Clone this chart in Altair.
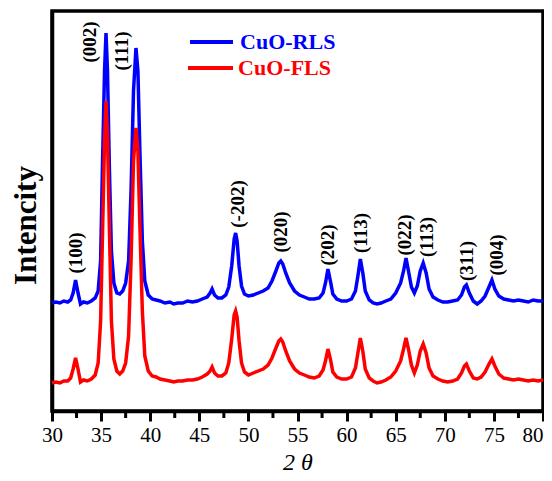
import altair as alt
import pandas as pd

# ---- data (2θ in degrees, intensity in arbitrary units) ----
two_theta = [30.0, 30.4, 30.8, 31.2, 31.6, 31.9, 32.15, 32.4, 32.65, 32.9, 33.2, 33.6, 34.0, 34.4, 34.7,
             34.95, 35.15, 35.35, 35.5, 35.65, 35.85, 36.05, 36.3, 36.6, 36.9, 37.2, 37.5, 37.8, 38.05,
             38.3, 38.55, 38.75, 38.95, 39.2, 39.45, 39.8, 40.2, 40.6, 41.0, 41.5, 42.0, 42.4, 42.8, 43.3,
             43.8, 44.3, 44.8, 45.3, 45.8, 46.1, 46.3, 46.55, 46.9, 47.3, 47.7, 48.0, 48.3, 48.55, 48.7,
             48.85, 49.05, 49.3, 49.6, 50.0, 50.5, 51.0, 51.5, 52.0, 52.4, 52.8, 53.1, 53.3, 53.5, 53.8,
             54.2, 54.7, 55.2, 55.7, 56.2, 56.7, 57.2, 57.6, 57.85, 58.1, 58.35, 58.6, 59.0, 59.5, 60.0,
             60.5, 60.9, 61.15, 61.4, 61.65, 61.9, 62.3, 62.7, 63.1, 63.5, 64.0, 64.5, 65.0, 65.5, 65.8,
             66.05, 66.3, 66.6, 66.9, 67.2, 67.5, 67.8, 68.1, 68.4, 68.8, 69.3, 69.8, 70.3, 70.8, 71.3,
             71.7, 72.0, 72.2, 72.5, 72.9, 73.3, 73.7, 74.1, 74.5, 74.8, 75.1, 75.5, 76.0, 76.5, 77.0,
             77.5, 78.0, 78.5, 79.0, 79.5, 80.0]

cuo_rls = [108, 109, 108, 110, 109, 111, 118, 131, 118, 107, 109, 108, 110, 113, 120,
           150, 250, 340, 378, 340, 240, 160, 128, 118, 117, 120, 128, 150, 220,
           320, 363, 340, 260, 170, 130, 116, 112, 111, 110, 108, 109, 107, 108, 108,
           110, 109, 110, 112, 114, 118, 122, 116, 113, 113, 116, 124, 145, 172, 178,
           170, 145, 125, 117, 115, 116, 118, 120, 123, 130, 140, 148, 150, 147, 138,
           128, 120, 116, 114, 112, 112, 113, 118, 128, 142, 130, 117, 112, 110, 110,
           112, 120, 135, 152, 138, 120, 111, 108, 107, 108, 110, 112, 118, 128, 140,
           153, 140, 124, 118, 125, 140, 148, 138, 122, 114, 111, 109, 109, 110, 111,
           116, 124, 126, 118, 110, 107, 110, 115, 124, 131, 122, 115, 112, 111, 110,
           111, 110, 109, 111, 110, 110]

cuo_fls = [28, 29, 28, 30, 30, 33, 42, 53, 42, 29, 31, 30, 32, 36, 48,
           90, 180, 270, 310, 275, 180, 90, 52, 40, 37, 40, 48, 75, 150,
           250, 283, 260, 185, 100, 55, 40, 35, 34, 32, 31, 30, 29, 30, 30,
           31, 31, 32, 34, 37, 40, 44, 38, 35, 35, 38, 48, 72, 96, 100,
           94, 70, 48, 39, 36, 38, 40, 42, 46, 53, 63, 70, 72, 69, 60,
           50, 42, 38, 36, 34, 33, 35, 41, 50, 62, 52, 39, 34, 32, 32,
           34, 43, 58, 73, 60, 42, 33, 30, 28, 29, 31, 34, 40, 50, 62,
           73, 62, 46, 38, 46, 60, 67, 58, 43, 35, 32, 30, 29, 30, 32,
           38, 45, 47, 40, 33, 32, 34, 39, 47, 52, 45, 37, 33, 32, 31,
           32, 31, 30, 31, 30, 31]

peak_labels = ["(100)", "(002)", "(111)", "(-202)", "(020)", "(202)", "(113)", "(022)", "(113)", "(311)", "(004)"]
peak_label_x = [32.45, 33.9, 37.1, 48.95, 53.3, 58.1, 61.45, 65.95, 68.2, 72.25, 75.3]
peak_label_y = [158, 369, 360, 207, 179, 166, 178, 176, 174, 150, 156]

series_names = ["CuO-RLS", "CuO-FLS"]
series_colors = ["#0000FF", "#FF0000"]
legend_line_x1 = [44.05, 43.85]
legend_line_x2 = [48.43, 48.43]
legend_text_x = [49.15, 48.95]
legend_y = [369, 343]

x_ticks = [30, 35, 40, 45, 50, 55, 60, 65, 70, 75, 80]
minor_ticks = [32.5, 37.5, 42.5, 47.5, 52.5, 57.5, 62.5, 67.5, 72.5, 77.5]

# ---- tables (every layer uses the same field names t / v so the axes merge) ----
rls_df = pd.DataFrame({"t": two_theta, "v": cuo_rls})
fls_df = pd.DataFrame({"t": two_theta, "v": cuo_fls})
lab_df = pd.DataFrame({"t": peak_label_x, "v": peak_label_y, "label": peak_labels})
leg_line_df = pd.DataFrame({"t": legend_line_x1, "t2": legend_line_x2, "v": legend_y, "color": series_colors})
leg_text_df = pd.DataFrame({"t": legend_text_x, "v": legend_y, "name": series_names, "color": series_colors})
minor_df = pd.DataFrame({"t": minor_ticks})

FONT = "Liberation Serif"
xscale = alt.Scale(domain=[30, 80], nice=False, zero=False)
yscale = alt.Scale(domain=[0, 400], nice=False, zero=False)

X = alt.X("t:Q", scale=xscale, axis=alt.Axis(
    values=x_ticks, format="d", title="2 θ", grid=False,
    labelFont=FONT, labelFontSize=21, labelColor="black", labelPadding=3, labelFlush=False,
    labelOverlap=False,
    labelAlign={"condition": {"test": "datum.value == 80", "value": "right"}, "value": "center"},
    tickSize=10, tickWidth=3, tickColor="black",
    domainWidth=3.5, domainColor="black",
    titleFont=FONT, titleFontSize=24, titleFontStyle="italic", titleFontWeight="normal",
    titleColor="black", titleBaseline="middle", titleY=51))
Y = alt.Y("v:Q", scale=yscale, axis=alt.Axis(
    title="Intencity", labels=False, ticks=False, grid=False,
    domainWidth=3.5, domainColor="black",
    titleFont=FONT, titleFontSize=31, titleFontWeight="bold", titleColor="black",
    titleAngle=270, titleAlign="center", titleBaseline="middle", titleX=-26, titleY=214))

blue = alt.Chart(rls_df).mark_line(color=series_colors[0], strokeWidth=3.5).encode(x=X, y=Y)
red = alt.Chart(fls_df).mark_line(color=series_colors[1], strokeWidth=3.5).encode(x=X, y=Y)

labels = alt.Chart(lab_df).mark_text(angle=270, align="center", baseline="middle",
                                     font=FONT, fontWeight="bold", fontSize=19, color="black").encode(
    x=X, y=Y, text="label:N")

leg_lines = alt.Chart(leg_line_df).mark_rule(strokeWidth=4).encode(
    x=X, x2="t2:Q", y=Y, color=alt.Color("color:N", scale=None))
leg_text = alt.Chart(leg_text_df).mark_text(align="left", baseline="middle", font=FONT,
                                            fontWeight="bold", fontSize=22).encode(
    x=X, y=Y, text="name:N", color=alt.Color("color:N", scale=None))

minor = alt.Chart(minor_df).mark_rule(color="black", strokeWidth=3).encode(
    x=X, y=alt.value(400), y2=alt.value(407))

chart = alt.layer(blue, red, labels, leg_lines, leg_text, minor).properties(
    width=491, height=400,
    background="white",
    autosize=alt.AutoSizeParams(type="none"),
    padding={"left": 44, "top": 3, "right": 1, "bottom": 62},
).configure_view(stroke="black", strokeWidth=3.5)

chart.save("out.html", embed_options={"renderer": "svg", "actions": False})
